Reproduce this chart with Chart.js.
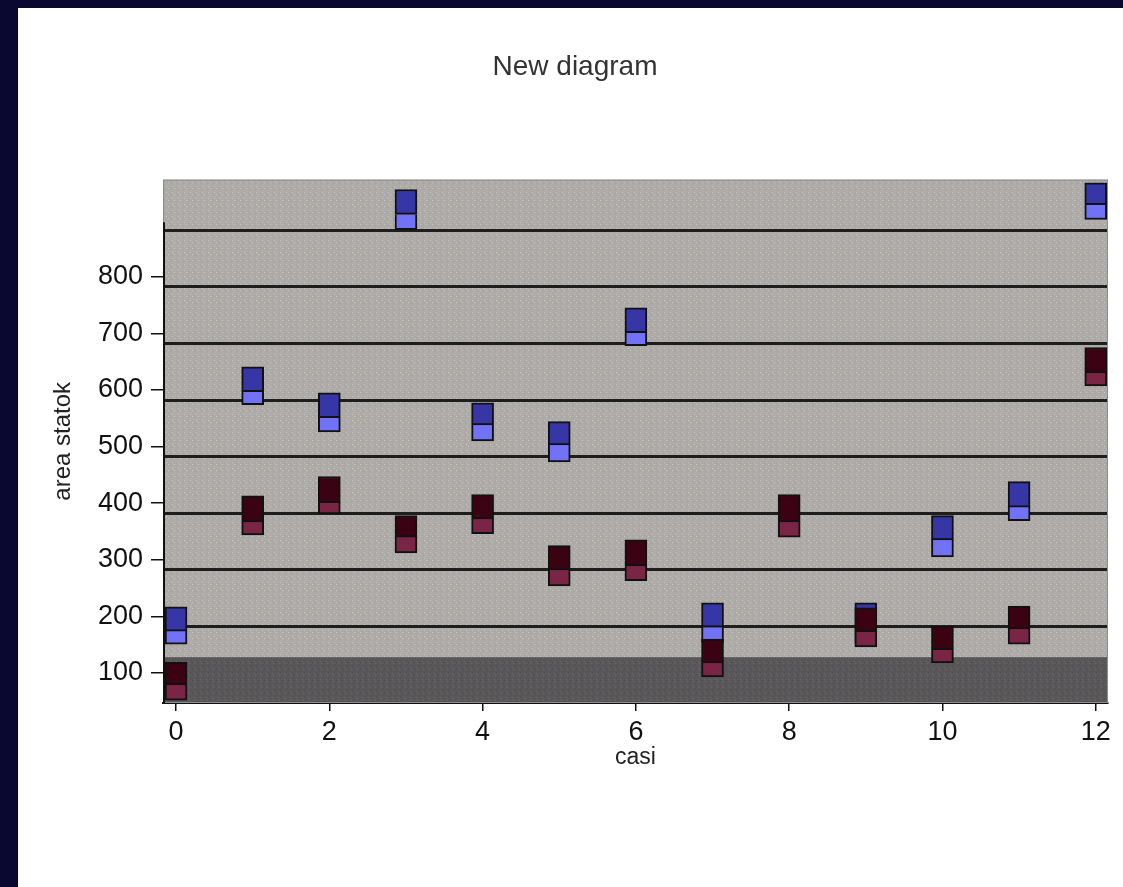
<!DOCTYPE html>
<html>
<head>
<meta charset="utf-8">
<script src="https://cdn.jsdelivr.net/npm/chart.js@4.4.1/dist/chart.umd.min.js"></script>
<style>
  html, body { margin: 0; padding: 0; }
  body { width: 1123px; height: 887px; background: #0a0830; position: relative; overflow: hidden; }
  #panel { position: absolute; left: 18px; top: 8px; width: 1105px; height: 879px; background: #fff; }
</style>
</head>
<body>
<div id="panel"><canvas id="graph"></canvas></div>
<script>
// valeurs (bas / séparation / haut de chaque boîte)
const casi = [0, 1, 2, 3, 4, 5, 6, 7, 8, 9, 10, 11, 12];
const bleuHaut = [217, 641, 595, 954, 577, 544, 745, 224, null, 224, 378, 438, 966];
const bleuMilieu = [174, 597, 551, 910, 538, 503, 701, 181, null, 181, 335, 393, 927];
const bleuBas = [151, 574, 526, 883, 510, 473, 678, 153, null, 153, 305, 369, 901];
const rougeHaut = [119, 413, 447, 378, 415, 325, 335, 160, 415, 215, 183, 218, 675];
const rougeMilieu = [79, 367, 401, 340, 372, 282, 289, 118, 367, 173, 141, 178, 630];
const rougeBas = [52, 344, 381, 312, 346, 254, 263, 93, 340, 146, 118, 151, 607];
const yTicks = [100, 200, 300, 400, 500, 600, 700, 800];
const xTicks = [0, 2, 4, 6, 8, 10, 12];
const bandeSombre = 128; // haut de la zone foncée en bas du graphe

const FONT = 'Liberation Sans, Arial, sans-serif';

// construit les points [debut, fin] pour chaque case
function segments(bas, haut) {
  return casi
    .map((c, i) => (bas[i] == null ? null : { x: c, y: [bas[i], haut[i]] }))
    .filter(p => p !== null);
}

// petite texture pointillée comme sur l'original
function makePattern(base, dots) {
  const c = document.createElement('canvas');
  c.width = 6; c.height = 6;
  const g = c.getContext('2d');
  g.fillStyle = base;
  g.fillRect(0, 0, 6, 6);
  const pos = [[0, 0], [3, 1], [1, 3], [4, 4], [2, 5], [5, 2]];
  pos.forEach((p, i) => {
    g.fillStyle = dots[i % dots.length];
    g.fillRect(p[0], p[1], 1, 1);
  });
  return g.createPattern(c, 'repeat');
}

const fondPlugin = {
  id: 'fond',
  beforeDraw(chart) {
    const { ctx, chartArea: a, scales } = chart;
    ctx.save();
    ctx.fillStyle = makePattern('#adaaa8', ['#c9c8bc', '#9ea3b2', '#bcb0a6']);
    ctx.fillRect(a.left, a.top, a.right - a.left, a.bottom - a.top);
    const yb = scales.y.getPixelForValue(bandeSombre);
    ctx.fillStyle = makePattern('#5a5858', ['#4a4a56', '#6a6866', '#52505e']);
    ctx.fillRect(a.left, yb, a.right - a.left, a.bottom - yb);
    ctx.restore();
  },
  beforeDatasetsDraw(chart) {
    const { ctx, chartArea: a, scales } = chart;
    ctx.save();
    ctx.strokeStyle = '#8c8c8c';
    ctx.lineWidth = 1;
    ctx.strokeRect(a.left + 0.5, a.top + 0.5, a.right - a.left - 1, a.bottom - a.top - 1);
    // axe gauche noir, commence vers la ligne de grille du haut
    const t = scales.y2.ticks;
    const yTop = scales.y2.getPixelForValue(t[t.length - 1].value) - 8;
    ctx.strokeStyle = '#111';
    ctx.lineWidth = 2;
    ctx.beginPath();
    ctx.moveTo(a.left + 1, yTop);
    ctx.lineTo(a.left + 1, a.bottom);
    ctx.stroke();
    ctx.restore();
  }
};

const commun = {
  barThickness: 22,
  grouped: false,
  borderColor: '#111',
  borderWidth: 2
};

const ctx = document.getElementById('graph').getContext('2d');
window.graphe = new Chart(ctx, {
  type: 'bar',
  data: {
    datasets: [
      { ...commun, label: 'rouge haut', data: segments(rougeMilieu, rougeHaut), backgroundColor: '#3a0212', borderSkipped: false },
      { ...commun, label: 'rouge bas', data: segments(rougeBas, rougeMilieu), backgroundColor: '#7a2446', borderSkipped: 'top' },
      { ...commun, label: 'bleu haut', data: segments(bleuMilieu, bleuHaut), backgroundColor: '#3636a6', borderSkipped: false },
      { ...commun, label: 'bleu bas', data: segments(bleuBas, bleuMilieu), backgroundColor: '#7272f6', borderSkipped: 'top' }
    ]
  },
  options: {
    responsive: true,
    maintainAspectRatio: false,
    animation: false,
    events: [],
    layout: { padding: { top: 0, left: 24, right: 15, bottom: 104 } },
    plugins: {
      legend: { display: false },
      tooltip: { enabled: false },
      title: {
        display: true,
        text: 'New diagram',
        color: '#333',
        font: { family: FONT, size: 28, weight: 'normal' },
        padding: { top: 42, bottom: 96 }
      }
    },
    scales: {
      x: {
        type: 'linear',
        min: -0.17,
        max: 12.16,
        offset: false,
        afterBuildTicks: s => { s.ticks = xTicks.map(v => ({ value: v })); },
        afterFit: s => { s.height = 80; },
        ticks: { color: '#111', font: { family: FONT, size: 27 }, padding: 5, maxRotation: 0, autoSkip: false },
        grid: { offset: false, drawOnChartArea: false, drawTicks: true, tickLength: 8, color: '#111', lineWidth: 1.5 },
        border: { display: true, color: '#111', width: 2 },
        title: { display: true, text: 'casi', color: '#222', font: { family: FONT, size: 23 }, padding: { top: 12, bottom: 12 } }
      },
      y: {
        type: 'linear',
        position: 'left',
        min: 47,
        max: 971.5,
        afterBuildTicks: s => { s.ticks = yTicks.map(v => ({ value: v })); },
        afterFit: s => { s.width = 121; },
        ticks: { color: '#111', font: { family: FONT, size: 27 }, padding: 8, autoSkip: false },
        grid: { drawOnChartArea: false, drawTicks: true, tickLength: 12, color: '#111', lineWidth: 1.5 },
        border: { display: false },
        title: { display: true, text: 'area statok', color: '#222', font: { family: FONT, size: 24 }, padding: { top: 7, bottom: 0 } }
      },
      // axe caché qui porte les lignes horizontales (décalées par rapport aux graduations)
      y2: {
        type: 'linear',
        position: 'left',
        min: 65,
        max: 989.5,
        ticks: { display: false, stepSize: 100, includeBounds: false },
        afterFit: s => { s.width = 0; },
        grid: {
          drawTicks: false,
          lineWidth: 3,
          color: c => (c.tick && c.tick.value < 150 ? 'rgba(0,0,0,0)' : '#1e1e1e')
        },
        border: { display: false }
      }
    }
  },
  plugins: [fondPlugin]
});
</script>
</body>
</html>
